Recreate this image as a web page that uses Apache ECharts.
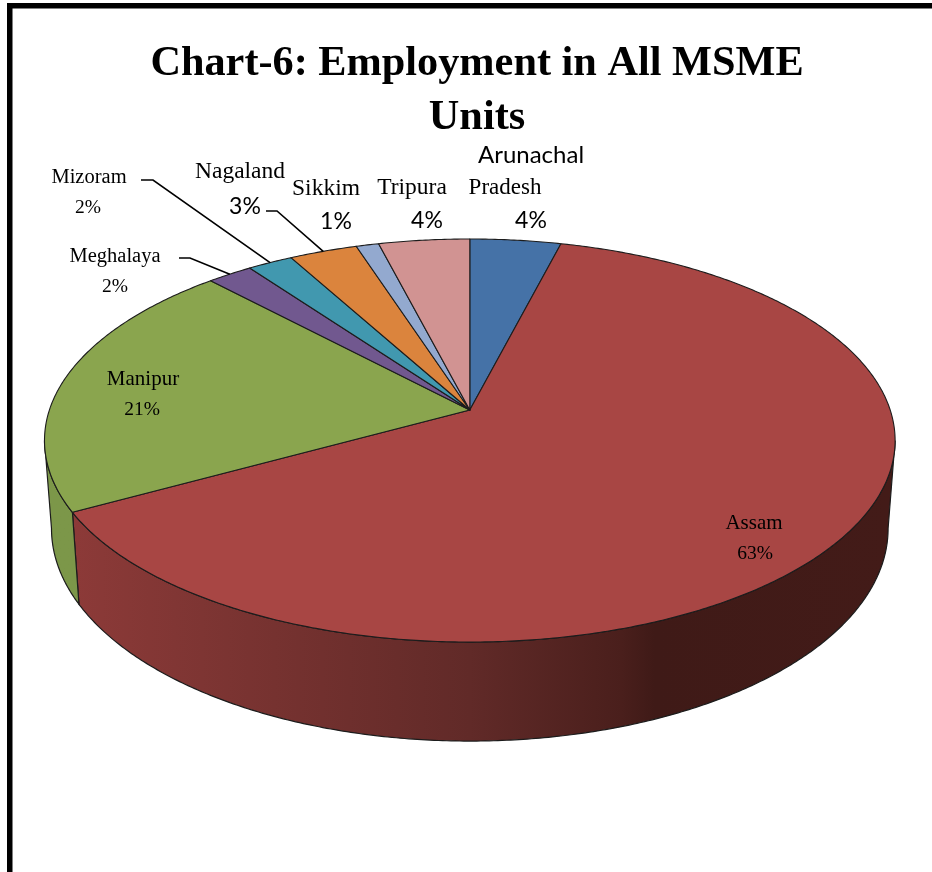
<!DOCTYPE html>
<html>
<head>
<meta charset="utf-8">
<title>Employment in All MSME Units</title>
<script src="https://cdn.jsdelivr.net/npm/echarts@6/dist/echarts.min.js"></script>
<style>
  html, body { margin: 0; padding: 0; background: #fff; }
  #chart { width: 932px; height: 872px; }
</style>
</head>
<body>
<div id="chart"></div>
<script>
// Employment share by state, percent, clockwise from twelve o'clock.
const states = ['Arunachal Pradesh', 'Assam', 'Manipur', 'Meghalaya', 'Mizoram', 'Nagaland', 'Sikkim', 'Tripura'];
const shares = [4, 63, 21, 2, 2, 3, 1, 4];
const sliceColors = ['#4572A7', '#A84644', '#8AA54E', '#71588F', '#4198AF', '#DB843D', '#93A9CF', '#D19392'];
const titleText = 'Chart-6: Employment in All MSME\nUnits';

// Perspective disc: the apex sits above the centre of the rim ellipse.
const apex = { x: 469.8, y: 410 };
const tilt = -0.1514, scaleY = 196.9, scaleX = 420.4;
const topRim = { cx: 469.5, cy: 440, rx: 425, ry: 201 };
const baseRim = { cx: 469.5, cy: 528, rx: 418, ry: 212 };
// Angles (degrees) where the rim turns from front-facing to back-facing.
const wallFrom = 98.7, wallTo = 261.3;

function rimPoint(deg) {
  const t = deg * Math.PI / 180;
  const u = Math.sin(t), v = -Math.cos(t), w = 1 + tilt * v;
  return [apex.x + scaleX * u / w, apex.y + scaleY * v / w];
}
function basePoint(deg) {
  const p = rimPoint(deg);
  return [
    baseRim.cx + (p[0] - topRim.cx) * baseRim.rx / topRim.rx,
    baseRim.cy + (p[1] - topRim.cy) * baseRim.ry / topRim.ry
  ];
}
function arc(fn, a, b) {
  const n = Math.max(2, Math.ceil(Math.abs(b - a) * 2)), pts = [];
  for (let i = 0; i <= n; i++) pts.push(fn(a + (b - a) * i / n));
  return pts;
}

const total = shares.reduce((s, v) => s + v, 0);
let running = 0;
const sliceData = shares.map((v, i) => {
  const row = [running, running + v, v, i];
  running += v;
  return row;
});

const edgeColor = '#1c1c1c';
// Side wall shading runs left to right, from lit to shadowed.
const wallShades = {
  1: [[0, '#8F3B39'], [0.18, '#7E3533'], [0.5, '#612A28'], [0.68, '#4A1F1C'], [0.72, '#3F1A17'], [1, '#431B18']],
  2: [[0, '#7C9749'], [1, '#7A9547']]
};

function renderSlice(params, api) {
  const a = api.value(0) / total * 360, b = api.value(1) / total * 360, idx = api.value(3);
  const children = [];
  const wa = Math.max(a, wallFrom), wb = Math.min(b, wallTo);
  if (wb > wa) {
    const pts = arc(rimPoint, wa, wb).concat(arc(basePoint, wb, wa));
    children.push({
      type: 'polygon',
      shape: { points: pts },
      style: {
        fill: {
          type: 'linear', global: true, x: 50, y: 0, x2: 890, y2: 0,
          colorStops: wallShades[idx].map(s => ({ offset: s[0], color: s[1] }))
        },
        stroke: edgeColor, lineWidth: 1.2
      }
    });
  }
  children.push({
    type: 'polygon',
    shape: { points: [[apex.x, apex.y]].concat(arc(rimPoint, a, b)) },
    style: { fill: sliceColors[idx], stroke: edgeColor, lineWidth: 1.1, lineJoin: 'round' }
  });
  return { type: 'group', children: children };
}

// Where each state's text sits, and which face it was set in.
const serif = 'Liberation Serif', sans = 'Lato';
const labelPlacement = {
  0: { name: [[531, 155, sans, 24], [505, 187.5, serif, 23]], pct: [531, 221, sans, 23] },
  1: { name: [[754, 523, serif, 21]], pct: [755, 554, serif, 19.5] },
  2: { name: [[143, 379, serif, 21]], pct: [142, 410, serif, 19.5] },
  3: { name: [[115, 256.5, serif, 20.5]], pct: [115, 287, serif, 19.5], leader: [[179, 258], [190, 258]] },
  4: { name: [[89, 178, serif, 20.5]], pct: [88, 208, serif, 19.5], leader: [[141, 180], [153, 180]] },
  5: { name: [[240, 171.5, serif, 23.5]], pct: [245, 207, sans, 23], leader: [[266, 211], [277, 211]] },
  6: { name: [[326, 188.5, serif, 23.5]], pct: [336, 222, sans, 23] },
  7: { name: [[412, 187.5, serif, 23.5]], pct: [427, 221, sans, 23] }
};

function textItem(str, spec) {
  return {
    type: 'text',
    style: {
      text: str, x: spec[0], y: spec[1], fill: '#000',
      font: spec[3] + 'px "' + spec[2] + '"',
      textAlign: 'center', textVerticalAlign: 'middle'
    }
  };
}

function renderLabel(params, api) {
  const idx = api.value(3), place = labelPlacement[idx];
  const words = place.name.length > 1 ? states[idx].split(' ') : [states[idx]];
  const children = words.map((w, i) => textItem(w, place.name[i]));
  children.push(textItem(api.value(2) + '%', place.pct));
  if (place.leader) {
    const mid = (api.value(0) + api.value(1)) / 2 / total * 360;
    children.push({
      type: 'polyline',
      shape: { points: place.leader.concat([rimPoint(mid)]) },
      style: { stroke: '#000', lineWidth: 1.6, fill: null }
    });
  }
  return { type: 'group', children: children };
}

const chart = echarts.init(document.getElementById('chart'), null, { renderer: 'canvas' });
chart.setOption({
  animation: false,
  backgroundColor: '#fff',
  title: {
    text: titleText,
    left: 472, top: 32,
    textAlign: 'center',
    textStyle: {
      fontFamily: serif, fontWeight: 'bold', fontSize: 42.3, lineHeight: 54, color: '#000'
    }
  },
  // Heavy rule along the top and left edges of the page.
  graphic: [
    { type: 'rect', shape: { x: 7, y: 3, width: 925, height: 5.5 }, style: { fill: '#000' }, silent: true },
    { type: 'rect', shape: { x: 7, y: 3, width: 5.5, height: 869 }, style: { fill: '#000' }, silent: true }
  ],
  series: [
    { type: 'custom', coordinateSystem: 'none', silent: true, data: sliceData, renderItem: renderSlice, z: 2 },
    { type: 'custom', coordinateSystem: 'none', silent: true, data: sliceData, renderItem: renderLabel, z: 3 }
  ]
});
</script>
</body>
</html>
